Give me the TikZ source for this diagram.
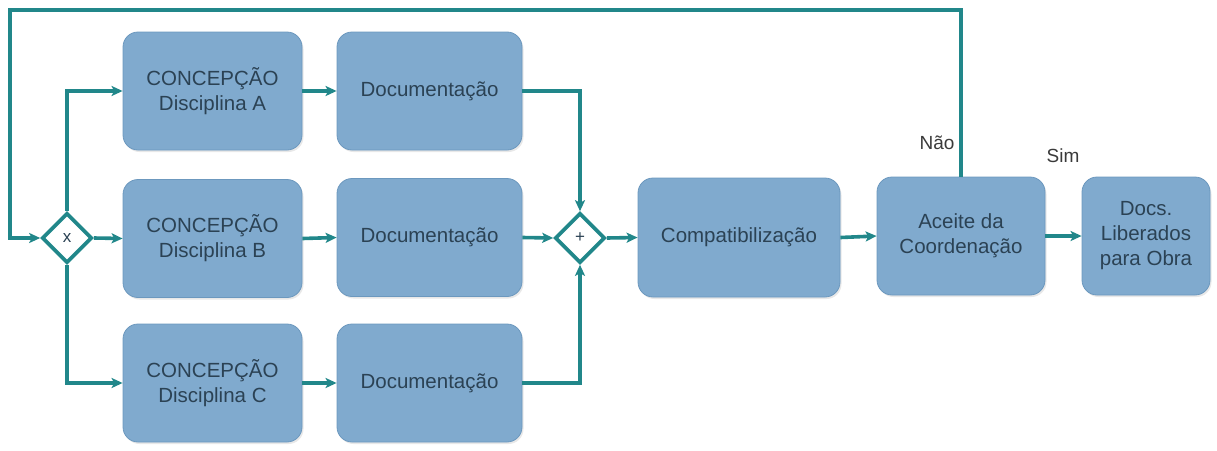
\documentclass[tikz,border=0pt]{standalone}
\usepackage{fontspec}
\setmainfont{Liberation Sans}
\usetikzlibrary{shapes.geometric,arrows.meta,shadows}
\definecolor{boxfill}{HTML}{80AACE}
\definecolor{boxline}{HTML}{6C98BE}
\definecolor{boxtext}{HTML}{2B4254}
\definecolor{flow}{HTML}{21878A}
\definecolor{labeltext}{HTML}{3A3A3A}
\begin{document}
\begin{tikzpicture}[x=1pt,y=-1pt,
  task/.style={draw=boxline, line width=0.8pt, fill=boxfill, rounded corners=15pt,
    align=center, text=boxtext, inner sep=0pt,
    font=\fontsize{20.5}{25}\selectfont,
    drop shadow={opacity=0.18, shadow xshift=1.5pt, shadow yshift=-2pt}},
  gate/.style={diamond, aspect=1, draw=flow, line width=3.6pt, fill=white,
    minimum width=50pt, minimum height=50pt, inner sep=0pt,
    text=boxtext, font=\fontsize{17}{17}\selectfont},
  flowline/.style={draw=flow, line width=3.6pt,
    -{Stealth[length=11pt,width=10pt,inset=2.5pt]}},
  answer/.style={text=labeltext, font=\fontsize{19}{19}\selectfont}]
  \useasboundingbox (0,0) rectangle (1217,450);

  % split and join gateways
  \node[gate] (gx) at (67,238) {x};
  \node[gate] (gp) at (580,238) {+};

  % conception tasks
  \node[task, minimum width=179pt, minimum height=118pt] (ca) at (212.5,91) {CONCEPÇÃO\\Disciplina A};
  \node[task, minimum width=179pt, minimum height=118pt] (cb) at (212.5,238.5) {CONCEPÇÃO\\Disciplina B};
  \node[task, minimum width=179pt, minimum height=118pt] (cc) at (212.5,383) {CONCEPÇÃO\\Disciplina C};

  % documentation tasks
  \node[task, minimum width=185pt, minimum height=118pt] (da) at (429.5,91) {Documentação};
  \node[task, minimum width=185pt, minimum height=118pt] (db) at (429.5,237.5) {Documentação};
  \node[task, minimum width=185pt, minimum height=118pt] (dc) at (429.5,383) {Documentação};

  % downstream tasks
  \node[task, minimum width=202pt, minimum height=119pt] (cp) at (739,237.5) {Compatibilização};
  \node[task, minimum width=168pt, minimum height=118pt] (ac) at (961,236) {Aceite da\\Coordenação};
  \node[task, minimum width=128pt, minimum height=118pt] (dl) at (1146,236) {Docs.\\Liberados\\para Obra};

  % rework loop back to the split
  \coordinate (tl) at (10,10);
  \draw[flowline] (ac.north) |- (tl) |- (gx.west);

  % split into the three disciplines
  \draw[flowline] (gx.north) |- (ca.west);
  \draw[flowline] (gx.east) -- (cb.west);
  \draw[flowline] (gx.south) |- (cc.west);

  \draw[flowline] (ca.east) -- (da.west);
  \draw[flowline] (cb.east) -- (db.west);
  \draw[flowline] (cc.east) -- (dc.west);

  % join
  \draw[flowline] (da.east) -| (gp.north);
  \draw[flowline] (db.east) -- (gp.west);
  \draw[flowline] (dc.east) -| (gp.south);

  \draw[flowline] (gp.east) -- (cp.west);
  \draw[flowline] (cp.east) -- (ac.west);
  \draw[flowline] (ac.east) -- (dl.west);

  % decision labels
  \node[answer] (nao) at (937,143) {Não};
  \node[answer] (sim) at (1063,156) {Sim};
\end{tikzpicture}
\end{document}
